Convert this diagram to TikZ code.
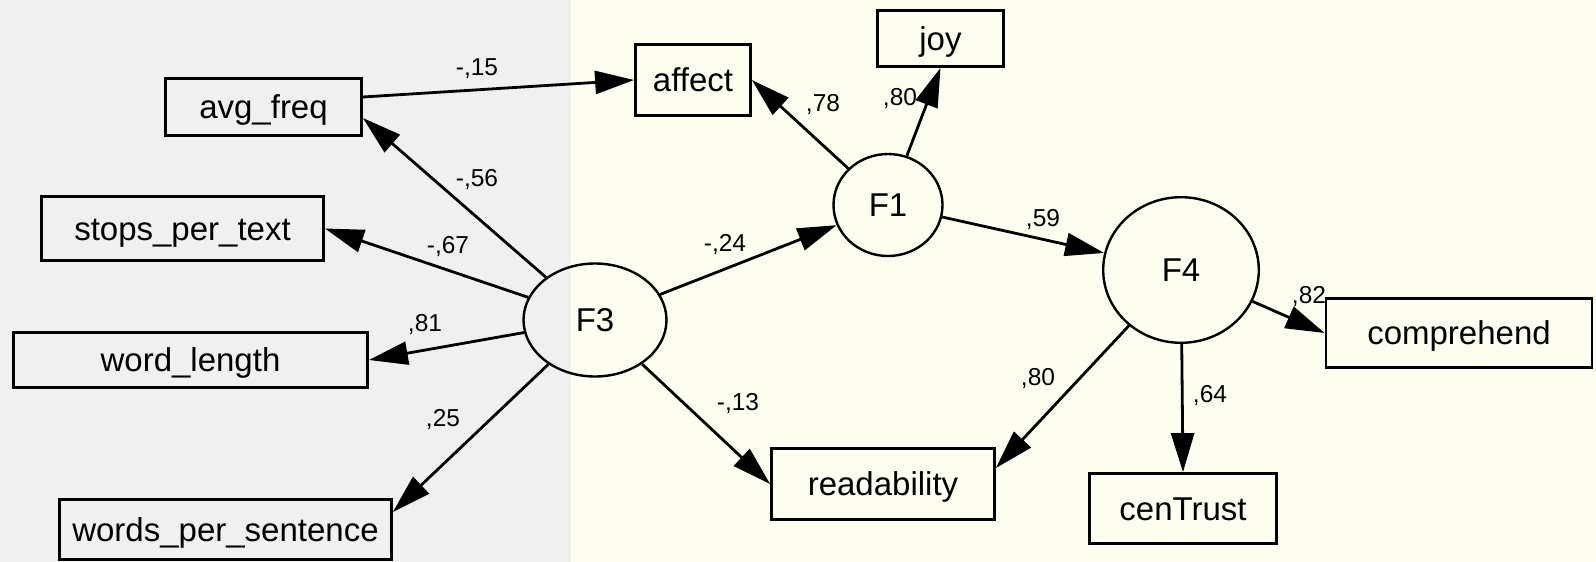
\documentclass[tikz,border=0pt]{standalone}
\usepackage{fontspec}
\setmainfont{Liberation Sans}
\usetikzlibrary{arrows.meta,shapes.geometric}
\definecolor{leftbg}{RGB}{240,240,240}
\definecolor{rightbg}{RGB}{254,254,240}
\begin{document}
\begin{tikzpicture}[x=1pt,y=-1pt,
  obs/.style={draw, line width=2.8pt, rectangle, inner sep=0pt,
    font=\fontsize{33}{36}\selectfont, text height=23.5pt, text depth=0pt},
  lat/.style={draw, line width=2.4pt, ellipse, inner sep=0pt,
    font=\fontsize{33}{36}\selectfont, text height=23.5pt, text depth=0pt},
  conn/.style={line width=2.8pt, -{Triangle[length=39pt,width=23pt]}},
  coef/.style={inner sep=0pt, font=\fontsize{24.5}{26}\selectfont,
    text height=17.5pt, text depth=0pt}
]
\useasboundingbox (0,0) rectangle (1596,562);
\fill[leftbg] (0,0) rectangle (571,562);
\fill[rightbg] (571,0) rectangle (1596,562);

% observed variables
\node[obs, minimum width=196pt, minimum height=57pt] (avgfreq) at (263.5,107) {avg\_freq};
\node[obs, minimum width=282pt, minimum height=64pt] (stops) at (182.5,228.5) {stops\_per\_text};
\node[obs, minimum width=354pt, minimum height=55pt] (wordlen) at (190.5,360) {word\_length};
\node[obs, minimum width=332pt, minimum height=60pt] (wps) at (225.5,529.5) {words\_per\_sentence};
\node[obs, minimum width=115pt, minimum height=71pt] (affect) at (693,80) {affect};
\node[obs, minimum width=126pt, minimum height=56pt] (joy) at (940.5,38.5) {joy};
\node[obs, minimum width=223pt, minimum height=71pt] (read) at (883,484) {readability};
\node[obs, minimum width=187pt, minimum height=70pt] (cent) at (1183,508.5) {cenTrust};
\node[obs, minimum width=266pt, minimum height=69pt] (comp) at (1459,333) {comprehend};

% latent variables
\node[lat, minimum width=143pt, minimum height=113pt] (F3) at (595,320) {F3};
\node[lat, minimum width=109pt, minimum height=102pt] (F1) at (888,205) {F1};
\node[lat, minimum width=155.6pt, minimum height=145.6pt] (F4) at (1181,270) {F4};

% connectors
\draw[conn] (F3) -- ([yshift=-11pt]avgfreq.east);
\draw[conn] (F3) -- (stops.east);
\draw[conn] (F3) -- (wordlen.east);
\draw[conn] (F3) -- ([yshift=17.5pt]wps.east);
\draw[conn] ([yshift=10pt]avgfreq.east) -- (affect.west);
\draw[conn] (F1) -- (affect.east);
\draw[conn] (F1) -- (joy.south);
\draw[conn] (F3) -- (F1);
\draw[conn] (F1) -- (F4);
\draw[conn] (F3) -- (read.west);
\draw[conn] (F4) -- ([yshift=16pt]read.east);
\draw[conn] (F4) -- (cent.north);
\draw[conn] (F4) -- (comp.west);

% coefficients
\node[coef] (c15) at (477,67) {-,15};
\node[coef] (c56) at (477,178) {-,56};
\node[coef] (c67) at (448,245) {-,67};
\node[coef] (c81) at (425,323) {,81};
\node[coef] (c25) at (443,418) {,25};
\node[coef] (c24) at (725,243) {-,24};
\node[coef] (c13) at (738,402) {-,13};
\node[coef] (c78) at (823,103) {,78};
\node[coef] (c80a) at (900,97) {,80};
\node[coef] (c59) at (1043,218) {,59};
\node[coef] (c80b) at (1038,377) {,80};
\node[coef] (c64) at (1210,394) {,64};
\node[coef] (c82) at (1309,295) {,82};
\end{tikzpicture}
\end{document}
